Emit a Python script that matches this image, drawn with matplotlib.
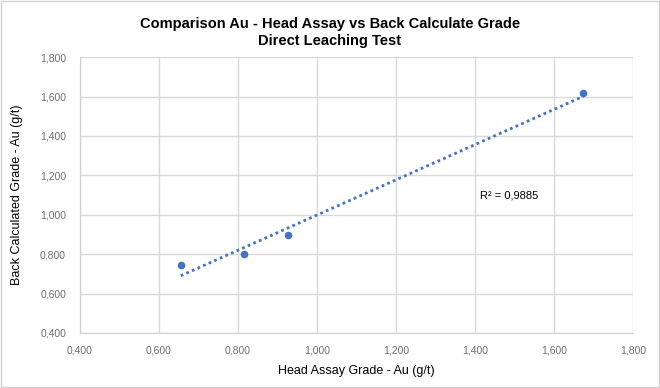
import matplotlib
matplotlib.use("Agg")
import matplotlib.pyplot as plt
import numpy as np
from matplotlib.ticker import FuncFormatter
from matplotlib.patches import Rectangle

plt.rcParams['font.family'] = ['Liberation Sans', 'DejaVu Sans']

head_assay = [0.655, 0.815, 0.927, 1.674]
back_calc = [0.745, 0.802, 0.895, 1.616]
r2_label = "R² = 0,9885"
title = "Comparison Au - Head Assay vs Back Calculate Grade\nDirect Leaching Test"
xlabel = "Head Assay Grade - Au (g/t)"
ylabel = "Back Calculated Grade - Au (g/t)"
ticks = [0.4, 0.6, 0.8, 1.0, 1.2, 1.4, 1.6, 1.8]

fig = plt.figure(figsize=(6.6, 3.88), dpi=100)
ax = fig.add_axes([0.1212, 0.1418, 0.838, 0.711])

blue = '#4472C4'
x = np.array(head_assay)
y = np.array(back_calc)
ax.scatter(x, y, s=20, color=blue, zorder=3)
m, b = np.polyfit(x, y, 1)
xs = np.array([x.min(), x.max()])
ax.plot(xs, m * xs + b, linestyle=(0, (1, 1.2)), color=blue, linewidth=2, zorder=2)

ax.set_xlim(0.4, 1.8)
ax.set_ylim(0.4, 1.8)
ax.set_xticks(ticks)
ax.set_yticks(ticks)
fmt = FuncFormatter(lambda v, p: f"{v:.3f}".replace('.', ','))
ax.xaxis.set_major_formatter(fmt)
ax.yaxis.set_major_formatter(fmt)
ax.grid(True, color='#D9D9D9', linewidth=1)
ax.set_axisbelow(True)
for s in ['top', 'right']:
    ax.spines[s].set_visible(False)
ax.spines['bottom'].set_color('#D0D0D0')
ax.spines['left'].set_color('#D0D0D0')
ax.tick_params(length=0, labelsize=7.5, colors='#6F6F6F')
ax.tick_params(axis='x', pad=9)
ax.tick_params(axis='y', pad=10)

ax.set_xlabel(xlabel, fontsize=9, labelpad=7)
ax.set_ylabel(ylabel, fontsize=9, labelpad=12)
fig.text(0.5, 0.955, title, ha='center', va='top', fontsize=10.5, fontweight='bold', linespacing=1.2)
ax.text(1.413, 1.10, r2_label, fontsize=8, va='center', ha='left')

fig.patches.append(Rectangle((0.002, 0.003), 0.996, 0.994, transform=fig.transFigure,
                             fill=False, edgecolor='#D0D0D0', linewidth=1))
fig.savefig("out.png", dpi=100)
